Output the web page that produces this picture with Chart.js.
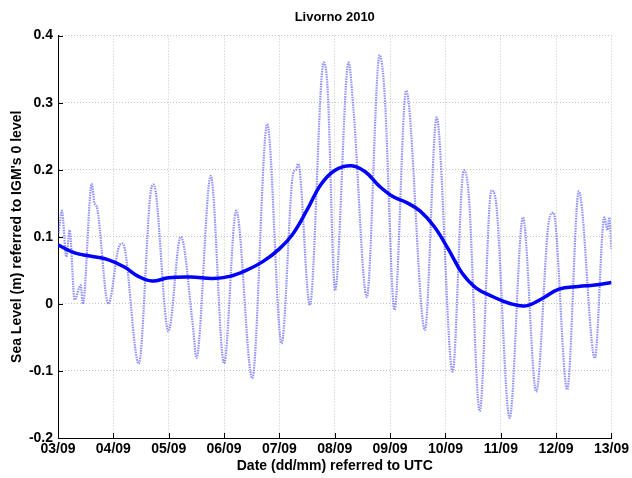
<!DOCTYPE html>
<html>
<head>
<meta charset="utf-8">
<title>Livorno 2010</title>
<script src="https://cdn.jsdelivr.net/npm/chart.js@4.4.1/dist/chart.umd.min.js"></script>
<style>
  html, body { margin: 0; padding: 0; background: #fff; }
  #wrap { width: 632px; height: 478px; }
</style>
</head>
<body>
<div id="wrap"><canvas id="chartCanvas" width="632" height="478"></canvas></div>
<script>
// Etichette dei giorni (asse x: giorni dopo il 03/09 alle 00 UTC)
const dayLabels = ['03/09', '04/09', '05/09', '06/09', '07/09', '08/09', '09/09', '10/09', '11/09', '12/09', '13/09'];

// Livello osservato (linea punteggiata): giorno e livello in metri
const tideDay = [0.01, 0.07, 0.15, 0.21, 0.30, 0.41, 0.45, 0.61, 0.66, 0.70, 0.91, 1.10, 1.17, 1.46, 1.68, 1.73,
  1.995, 2.19, 2.22, 2.44, 2.50, 2.76, 3.00, 3.22, 3.51, 3.78, 4.04, 4.25, 4.30, 4.34, 4.55, 4.80, 4.87,
  5.006, 5.25, 5.34, 5.58, 5.81, 5.90, 6.08, 6.29, 6.63, 6.84, 7.13, 7.33, 7.42, 7.62, 7.83, 7.91, 8.16,
  8.40, 8.64, 8.87, 8.95, 9.20, 9.41, 9.70, 9.87, 9.93, 9.96, 10.0];
const tideLevel = [0.105, 0.139, 0.07, 0.11, 0.006, 0.028, 0.0, 0.179, 0.15, 0.145, 0.0, 0.085, 0.09, -0.089, 0.17, 0.178,
  -0.041, 0.095, 0.10, -0.035, -0.081, 0.191, -0.089, 0.139, -0.111, 0.268, -0.059, 0.195, 0.20, 0.209, -0.002, 0.36, 0.323,
  0.02, 0.36, 0.288, 0.01, 0.371, 0.315, -0.009, 0.318, -0.039, 0.278, -0.101, 0.199, 0.164, -0.16, 0.169, 0.154, -0.17,
  0.129, -0.131, 0.124, 0.136, -0.128, 0.168, -0.081, 0.129, 0.11, 0.129, 0.082];

// Livello medio filtrato (linea spessa)
const meanDay = [0.0, 0.30, 0.60, 0.90, 1.20, 1.45, 1.70, 2.00, 2.40, 2.80, 3.10, 3.40, 3.70, 4.00, 4.25, 4.50,
  4.75, 5.00, 5.30, 5.55, 5.80, 6.05, 6.30, 6.55, 6.80, 7.05, 7.30, 7.55, 7.85, 8.15, 8.45, 8.75, 9.05, 9.40, 9.70, 10.0];
const meanLevel = [0.088, 0.076, 0.071, 0.066, 0.055, 0.041, 0.034, 0.039, 0.040, 0.038, 0.041, 0.050, 0.063, 0.082, 0.105, 0.140,
  0.178, 0.199, 0.206, 0.197, 0.176, 0.160, 0.151, 0.138, 0.115, 0.082, 0.046, 0.024, 0.011, 0.001, -0.003, 0.008, 0.022, 0.026, 0.028, 0.032];

const yMin = -0.2, yMax = 0.4, yStep = 0.1;

Chart.defaults.font.family = '"Liberation Sans", Arial, Helvetica, sans-serif';
Chart.defaults.color = '#000';

// tacche rivolte verso l'interno, come in MATLAB
const inwardTicks = {
  id: 'inwardTicks',
  afterDatasetsDraw(chart) {
    const { ctx, chartArea: a, scales: { x, y } } = chart;
    ctx.save();
    ctx.strokeStyle = '#000';
    ctx.lineWidth = 1;
    ctx.beginPath();
    x.ticks.forEach(t => {
      const px = Math.round(x.getPixelForValue(t.value)) + 0.5;
      ctx.moveTo(px, a.bottom);
      ctx.lineTo(px, a.bottom - 5);
    });
    y.ticks.forEach(t => {
      const py = Math.round(y.getPixelForValue(t.value)) + 0.5;
      ctx.moveTo(a.left, py);
      ctx.lineTo(a.left + 5, py);
    });
    ctx.stroke();
    ctx.restore();
  }
};

const ctx = document.getElementById('chartCanvas').getContext('2d');
new Chart(ctx, {
  type: 'line',
  data: {
    datasets: [
      {
        label: 'Livello medio',
        data: meanDay.map((d, i) => ({ x: d, y: meanLevel[i] })),
        borderColor: '#0000ff',
        borderWidth: 3.5,
        pointRadius: 0,
        tension: 0.4,
        fill: false
      },
      {
        label: 'Livello osservato',
        data: tideDay.map((d, i) => ({ x: d, y: tideLevel[i] })),
        borderColor: 'rgba(70, 70, 255, 0.6)',
        borderWidth: 2.2,
        borderDash: [1.5, 1],
        pointRadius: 0,
        cubicInterpolationMode: 'monotone',
        fill: false
      }
    ]
  },
  plugins: [inwardTicks],
  options: {
    responsive: false,
    animation: false,
    layout: { padding: { left: 0, right: 20, top: 0, bottom: 0 } },
    plugins: {
      legend: { display: false },
      tooltip: { enabled: false },
      title: {
        display: true,
        fullSize: false,
        text: 'Livorno 2010',
        color: '#000',
        font: { size: 13, weight: 'bold' },
        padding: { top: 10, bottom: 10 }
      }
    },
    scales: {
      x: {
        type: 'linear',
        min: 0,
        max: dayLabels.length - 1,
        afterFit: s => { s.height = 40; },
        grid: { color: '#c4c4c4', drawTicks: false },
        border: { display: true, color: '#000', width: 1, dash: [1, 2] },
        ticks: {
          stepSize: 1,
          padding: 3,
          maxRotation: 0,
          autoSkip: false,
          font: { size: 14, weight: 'bold' },
          callback: v => dayLabels[v] || ''
        },
        title: {
          display: true,
          text: 'Date (dd/mm) referred to UTC',
          font: { size: 14, weight: 'bold' },
          padding: { top: 0, bottom: 3 }
        }
      },
      y: {
        min: yMin,
        max: yMax,
        afterFit: s => { s.width = 58; },
        grid: { color: '#c4c4c4', drawTicks: false },
        border: { display: true, color: '#000', width: 1, dash: [1, 2] },
        ticks: {
          stepSize: yStep,
          padding: 5,
          font: { size: 14, weight: 'bold' },
          callback: v => {
            const r = Math.round(v * 10) / 10;
            return r === 0 ? '0' : r.toFixed(1);
          }
        },
        title: {
          display: true,
          text: "Sea Level (m) referred to IGM's 0 level",
          font: { size: 14, weight: 'bold' },
          padding: { top: 9, bottom: 0 }
        }
      }
    }
  }
});
</script>
</body>
</html>
